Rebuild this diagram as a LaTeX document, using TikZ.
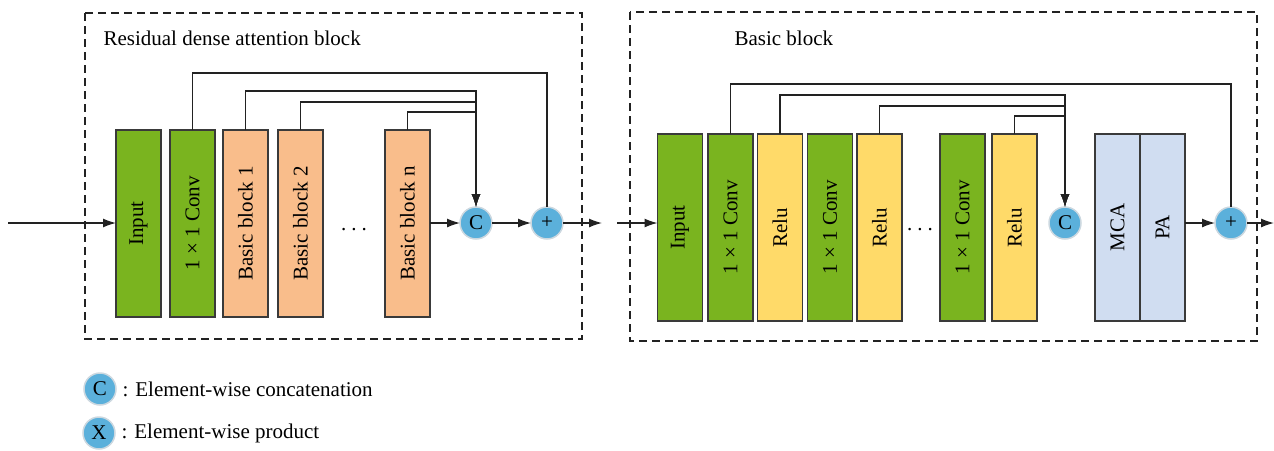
\documentclass[tikz,border=0pt]{standalone}
\usepackage{fontspec}
\setmainfont{Liberation Serif}
\usetikzlibrary{arrows.meta}
\definecolor{convgreen}{HTML}{7AB41F}
\definecolor{blockorange}{HTML}{F9BD8B}
\definecolor{reluyellow}{HTML}{FFDA69}
\definecolor{attnblue}{HTML}{D0DDF1}
\definecolor{opblue}{HTML}{5BB0DB}
\definecolor{opring}{HTML}{CCD8E0}
\definecolor{edgegray}{HTML}{3A3A3A}
\definecolor{wire}{HTML}{222222}
\newcommand{\spreaddots}{.\hspace{5pt}.\hspace{5pt}.}
\begin{document}
\begin{tikzpicture}[x=1pt,y=-1pt,
  font=\fontsize{21}{24}\selectfont,
  layer/.style={draw=edgegray, line width=1.5pt, minimum width=45pt,
    minimum height=187pt, inner sep=0pt, outer sep=0pt},
  opnode/.style={circle, fill=opblue, draw=opring, line width=1.5pt,
    minimum size=32pt, inner sep=0pt, outer sep=0pt},
  wireline/.style={draw=wire, line width=1.3pt},
  flow/.style={wireline, -{Latex[length=13pt,width=9pt]}},
  frame/.style={draw=wire, line width=1.3pt, dash pattern=on 8pt off 5pt},
  gap/.style={anchor=base, inner sep=0pt}
]
\useasboundingbox (0,0) rectangle (1274,450);

% enclosing dashed frames
\draw[frame] (85,13) rectangle (582,339);
\draw[frame] (630,12) rectangle (1257,341);
\node[anchor=west] (titleL) at (100,38) {Residual dense attention block};
\node[anchor=west] (titleR) at (731,38) {Basic block};

% residual dense attention block
\node[layer, fill=convgreen]   (inL)  at (138.5,223.5) {\rotatebox{90}{Input}};
\node[layer, fill=convgreen]   (cvL)  at (192.5,223.5) {\rotatebox{90}{1 × 1 Conv}};
\node[layer, fill=blockorange] (bb1)  at (245.5,223.5) {\rotatebox{90}{Basic block 1}};
\node[layer, fill=blockorange] (bb2)  at (300.5,223.5) {\rotatebox{90}{Basic block 2}};
\node[gap] (dotsL) at (354,230) {\spreaddots};
\node[layer, fill=blockorange] (bbn)  at (407.5,223.5) {\rotatebox{90}{Basic block n}};
\node[opnode] (catL)  at (476,223) {C};
\node[opnode] (plusL) at (547,223) {+};

\coordinate (srcL) at (8,223);
\coordinate (outL) at (602,223);
\draw[flow] (srcL) -- (inL.west |- srcL);
\draw[flow] (bbn.east |- catL) -- (catL);
\draw[flow] (catL) -- (plusL);
\draw[flow] (plusL) -- (outL);

\draw[wireline] (cvL.north) -- ++(0,-57) -| (plusL.north);
\draw[flow] (bb1.north) -- ++(0,-39) -| (catL.north);
\draw[flow] (bb2.north) -- ++(0,-28) -| (catL.north);
\draw[flow] (bbn.north) -- ++(0,-18) -| (catL.north);

% basic block
\node[layer, fill=convgreen]   (inR)  at (680,227.5)   {\rotatebox{90}{Input}};
\node[layer, fill=convgreen]   (cv1)  at (730.5,227.5) {\rotatebox{90}{1 × 1 Conv}};
\node[layer, fill=reluyellow]  (re1)  at (780,227.5)   {\rotatebox{90}{Relu}};
\node[layer, fill=convgreen]   (cv2)  at (830,227.5)   {\rotatebox{90}{1 × 1 Conv}};
\node[layer, fill=reluyellow]  (re2)  at (879.5,227.5) {\rotatebox{90}{Relu}};
\node[gap] (dotsR) at (920,230) {\spreaddots};
\node[layer, fill=convgreen]   (cv3)  at (962.5,227.5) {\rotatebox{90}{1 × 1 Conv}};
\node[layer, fill=reluyellow]  (re3)  at (1014.5,227.5) {\rotatebox{90}{Relu}};
\node[opnode] (catR) at (1065,223) {C};
\node[layer, fill=attnblue]    (mca)  at (1117.5,227.5) {\rotatebox{90}{MCA}};
\node[layer, fill=attnblue]    (pa)   at (1162.5,227.5) {\rotatebox{90}{PA}};
\node[opnode] (plusR) at (1231,223) {+};

\coordinate (srcR) at (617,223);
\coordinate (outR) at (1274,223);
\draw[flow] (srcR) -- (inR.west |- srcR);
\draw[flow] (pa.east |- plusR) -- (plusR);
\draw[flow] (plusR) -- (outR);

\draw[wireline] (cv1.north) -- ++(0,-50) -| (plusR.north);
\draw[flow] (re1.north) -- ++(0,-39) -| (catR.north);
\draw[flow] (re2.north) -- ++(0,-28) -| (catR.north);
\draw[flow] (re3.north) -- ++(0,-18) -| (catR.north);

% legend
\node[opnode] (legC) at (100,389) {C};
\node[anchor=west] (legCtext) at (119,389) {: Element-wise concatenation};
\node[opnode] (legX) at (99,433) {X};
\node[anchor=west] (legXtext) at (118,433) {: Element-wise product};
\end{tikzpicture}
\end{document}
